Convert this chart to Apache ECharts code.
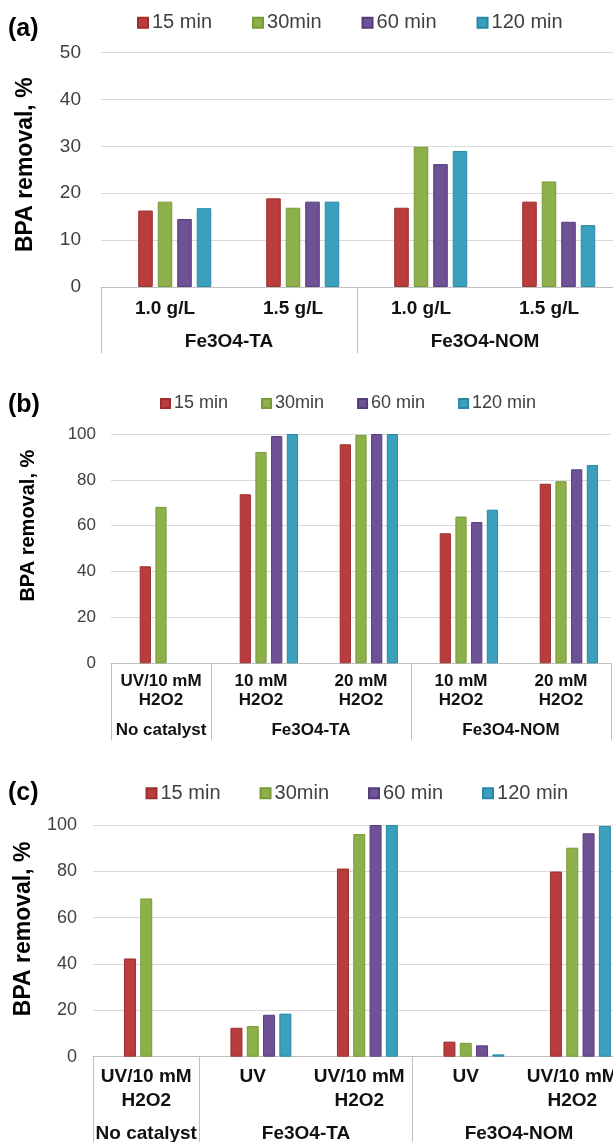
<!DOCTYPE html>
<html>
<head>
<meta charset="utf-8">
<script src="https://cdn.jsdelivr.net/npm/echarts@6/dist/echarts.min.js"></script>
<style>
  html, body { margin: 0; padding: 0; background: #fff; }
  #chart { width: 613px; height: 1142px; }
</style>
</head>
<body>
<div id="chart"></div>
<script>
// legend names and bar colours
const seriesNames = ['15 min', '30min', '60 min', '120 min'];
const fills = ['#B93D3D', '#8DB04A', '#6F5195', '#3AA0BE'];
const edges = ['#9E2E2E', '#789A38', '#553D7C', '#2A88A6'];

// (a) catalyst dose
const aCats = ['1.0 g/L', '1.5 g/L', '1.0 g/L', '1.5 g/L'];
const aGroups = ['Fe3O4-TA', 'Fe3O4-NOM'];
const aSpans = [2, 2];
const a15 = [16.3, 18.9, 16.9, 18.2];
const a30 = [18.2, 16.9, 29.9, 22.5];
const a60 = [14.5, 18.2, 26.2, 13.9];
const a120 = [16.8, 18.2, 29.0, 13.2];

// (b) H2O2 dose
const bCats = ['UV/10 mM\nH2O2', '10 mM\nH2O2', '20 mM\nH2O2', '10 mM\nH2O2', '20 mM\nH2O2'];
const bGroups = ['No catalyst', 'Fe3O4-TA', 'Fe3O4-NOM'];
const bSpans = [1, 2, 2];
const b15 = [42.3, 73.7, 95.5, 56.7, 78.3];
const b30 = [68.2, 92.2, 99.6, 64.0, 79.4];
const b60 = ['-', 99.1, 100, 61.6, 84.6];
const b120 = ['-', 100, 100, 67.0, 86.5];

// (c) UV vs UV/H2O2
const cCats = ['UV/10 mM\nH2O2', 'UV', 'UV/10 mM\nH2O2', 'UV', 'UV/10 mM\nH2O2'];
const cGroups = ['No catalyst', 'Fe3O4-TA', 'Fe3O4-NOM'];
const cSpans = [1, 2, 2];
const c15 = [42.4, 12.5, 81.2, 6.5, 79.9];
const c30 = [68.3, 13.2, 96.1, 6.0, 90.2];
const c60 = ['-', 18.1, 100, 4.9, 96.4];
const c120 = ['-', 18.6, 100, 1.0, 99.6];

const yMaxA = 50, yStepA = 10;
const yMaxB = 100, yStepB = 20;

// layout of each panel
const panels = [
  { tag: '(a)', tagTop: 16, cats: aCats, groups: aGroups, spans: aSpans, vals: [a15, a30, a60, a120],
    yMax: yMaxA, yStep: yStepA,
    grid: { left: 101, top: 52.5, height: 234.5, width: 512, outerBoundsMode: 'none' },
    yFont: 19, yMargin: 20, nameFont: 23, nameGap: 64, namePad: 10,
    catFont: 19, catLh: 22, catMargin: 11, grpFont: 19, grpLh: 21, grpMargin: 44.5, boxLen: 66,
    barGap: '34%', catGap: '27.7%',
    legend: { left: 137, top: 12.7, size: 10, font: 20, gap: 40 } },
  { tag: '(b)', tagTop: 392, cats: bCats, groups: bGroups, spans: bSpans, vals: [b15, b30, b60, b120],
    yMax: yMaxB, yStep: yStepB,
    grid: { left: 111, top: 434, height: 229.3, width: 500, outerBoundsMode: 'none' },
    yFont: 17, yMargin: 15, nameFont: 20, nameGap: 73, namePad: 46,
    catFont: 17, catLh: 19, catMargin: 9, grpFont: 17, grpLh: 19, grpMargin: 58, boxLen: 77,
    barGap: '40%', catGap: '26%',
    legend: { left: 160, top: 394.5, size: 9, font: 18, gap: 33 } },
  { tag: '(c)', tagTop: 780, cats: cCats, groups: cGroups, spans: cSpans, vals: [c15, c30, c60, c120],
    yMax: yMaxB, yStep: yStepB,
    grid: { left: 93, top: 825, height: 231.7, width: 532.5, outerBoundsMode: 'none' },
    yFont: 18, yMargin: 16, nameFont: 23, nameGap: 58, namePad: 24,
    catFont: 19, catLh: 24.3, catMargin: 8, grpFont: 19, grpLh: 21, grpMargin: 67, boxLen: 86,
    barGap: '36%', catGap: '27.5%',
    legend: { left: 145.5, top: 783.3, size: 10, font: 20, gap: 39 } }
];

const fontFam = '"Liberation Sans", Arial, sans-serif';
const option = {
  animation: false,
  title: [], legend: [], grid: [], xAxis: [], yAxis: [], series: []
};

panels.forEach(function (p, i) {
  option.title.push({
    text: p.tag, left: 8, top: p.tagTop, padding: 0,
    textStyle: { fontFamily: fontFam, fontSize: 25, fontWeight: 'bold', color: '#000', lineHeight: 26 }
  });
  option.legend.push({
    data: seriesNames, left: p.legend.left, top: p.legend.top, padding: 0,
    itemWidth: p.legend.size, itemHeight: p.legend.size, itemGap: p.legend.gap, icon: 'rect',
    selectedMode: false,
    textStyle: { fontFamily: fontFam, fontSize: p.legend.font, color: '#404040', padding: [0, 0, 0, -1] }
  });
  option.grid.push(p.grid);

  // group boundaries and centres for the second label row
  let bounds = [0], centres = [];
  p.spans.forEach(function (s) {
    const start = bounds[bounds.length - 1];
    centres.push(start + s / 2);
    bounds.push(start + s);
  });

  option.xAxis.push({
    type: 'category', gridIndex: i, data: p.cats,
    axisLine: { lineStyle: { color: '#BFBFBF' } },
    axisTick: { show: false },
    axisLabel: { interval: 0, margin: p.catMargin, fontFamily: fontFam, fontSize: p.catFont,
      fontWeight: 'bold', color: '#111', lineHeight: p.catLh }
  });
  option.xAxis.push({
    type: 'value', gridIndex: i, min: 0, max: p.cats.length, position: 'bottom',
    axisLine: { show: false }, splitLine: { show: false },
    axisTick: { show: true, customValues: bounds, length: p.boxLen, lineStyle: { color: '#BFBFBF' } },
    axisLabel: { customValues: centres, margin: p.grpMargin, fontFamily: fontFam, fontSize: p.grpFont,
      fontWeight: 'bold', color: '#111', lineHeight: p.grpLh, showMinLabel: true, showMaxLabel: true,
      formatter: function (v) {
        const k = centres.indexOf(v);
        return k >= 0 ? p.groups[k] : '';
      } }
  });
  option.yAxis.push({
    type: 'value', gridIndex: i, min: 0, max: p.yMax, interval: p.yStep,
    name: 'BPA removal, %', nameLocation: 'middle', nameGap: p.nameGap, nameRotate: 90,
    nameTextStyle: { fontFamily: fontFam, fontSize: p.nameFont, fontWeight: 'bold', color: '#000',
      padding: [0, 0, 0, p.namePad] },
    axisLine: { show: false }, axisTick: { show: false },
    axisLabel: { margin: p.yMargin, fontFamily: fontFam, fontSize: p.yFont, color: '#404040' },
    splitLine: { lineStyle: { color: '#D9D9D9' } }
  });

  // empty leading slot, the original chart keeps one free bar position per group
  option.series.push({
    type: 'bar', name: '_slot' + i, data: [], silent: true,
    xAxisIndex: i * 2, yAxisIndex: i, barGap: p.barGap, barCategoryGap: p.catGap
  });
  p.vals.forEach(function (vals, k) {
    option.series.push({
      type: 'bar', name: seriesNames[k], data: vals,
      xAxisIndex: i * 2, yAxisIndex: i, barGap: p.barGap, barCategoryGap: p.catGap,
      itemStyle: { color: fills[k], borderColor: edges[k], borderWidth: 1 }
    });
  });
});

const chart = echarts.init(document.getElementById('chart'), null, { renderer: 'canvas' });
chart.setOption(option);
</script>
</body>
</html>
